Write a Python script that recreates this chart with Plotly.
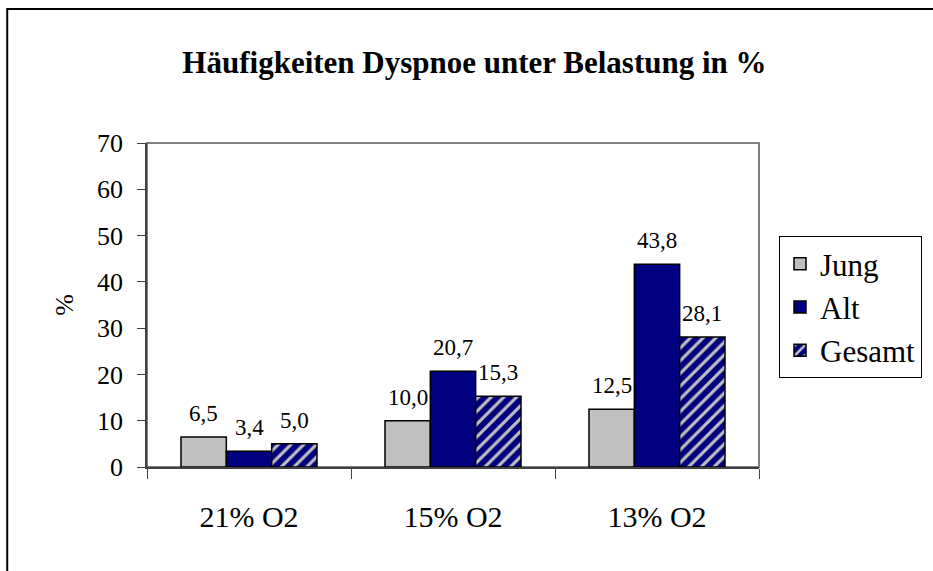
import plotly.graph_objects as go

categories = ["21% O2", "15% O2", "13% O2"]
jung = [6.5, 10.0, 12.5]
alt = [3.4, 20.7, 43.8]
gesamt = [5.0, 15.3, 28.1]
series_names = ["Jung", "Alt", "Gesamt"]

title_text = "Häufigkeiten Dyspnoe unter Belastung in %"
y_title = "%"
y_ticks = [0, 10, 20, 30, 40, 50, 60, 70]

FONT = "Liberation Serif, Times New Roman, serif"

W, H = 933, 571
L, R, T, B = 147, 760, 143, 467
pw, ph = R - L, B - T
BARGAP = 1 / 3

def px_x(x):
    return (x - L) / pw

def px_y(y):
    return (B - y) / ph

fig = go.Figure()
outline = dict(color="black", width=1.5)
fig.add_trace(go.Bar(x=categories, y=jung, name=series_names[0],
                     marker=dict(color="#C0C0C0", line=outline), legendgroup="a"))
fig.add_trace(go.Bar(x=categories, y=alt, name=series_names[1],
                     marker=dict(color="#000080", line=outline), legendgroup="b"))
fig.add_trace(go.Bar(x=categories, y=gesamt, name=series_names[2],
                     marker=dict(color="#000080", line=outline,
                                 pattern=dict(shape="/", fgcolor="#C0C0C0", bgcolor="#000080",
                                              size=9, solidity=0.35, fillmode="replace")),
                     legendgroup="c"))

# value labels above bars (German decimal comma)
bar_w = pw / len(categories) * (1 - BARGAP) / 3
annotations = []
for k, vals in enumerate([jung, alt, gesamt]):
    for cat, v in zip(categories, vals):
        annotations.append(dict(
            x=cat, y=v, xref="x", yref="y", xshift=(k - 1) * bar_w, yshift=9,
            text=f"{v:.1f}".replace(".", ","), showarrow=False,
            xanchor="center", yanchor="bottom",
            font=dict(family=FONT, size=23, color="black")))

fig.update_layout(
    width=W, height=H,
    margin=dict(l=L, r=W - R, t=T, b=H - B, pad=0),
    paper_bgcolor="white", plot_bgcolor="white",
    barmode="group", bargap=BARGAP, bargroupgap=0,
    font=dict(family=FONT, color="black"),
    title=dict(text="<b>" + title_text + "</b>", font=dict(family=FONT, size=31, color="black"),
               x=px_x(475), xref="paper", xanchor="center",
               y=1 - 62 / H, yref="container", yanchor="middle"),
    showlegend=True,
    legend=dict(x=px_x(779), xanchor="left", y=px_y(236), yanchor="top",
                bordercolor="black", borderwidth=1, bgcolor="white",
                font=dict(family=FONT, size=31, color="black"),
                tracegroupgap=0, itemwidth=30),
    annotations=annotations,
    xaxis=dict(showline=True, linecolor="#404040", linewidth=1.5,
               ticks="outside", tickson="boundaries", ticklen=10, tickcolor="#404040",
               tickfont=dict(family=FONT, size=30, color="black"),
               ticklabelstandoff=22, showgrid=False),
    yaxis=dict(range=[0, 70], tickvals=y_ticks, showline=True, linecolor="#404040", linewidth=1.5,
               ticks="outside", ticklen=8, tickcolor="#404040",
               tickfont=dict(family=FONT, size=26, color="black"),
               ticklabelstandoff=9, showgrid=False, zeroline=False,
               title=dict(text=y_title, font=dict(family=FONT, size=26, color="black"), standoff=16)),
    shapes=[
        dict(type="rect", xref="paper", yref="paper", x0=0, x1=1, y0=0, y1=1,
             line=dict(color="#808080", width=2), layer="below"),
        dict(type="rect", xref="paper", yref="paper", x0=px_x(7), x1=px_x(960),
             y0=px_y(600), y1=px_y(9), line=dict(color="black", width=2), layer="above"),
    ],
)

fig.write_html("out.html", config={"displayModeBar": False},
               post_script="document.body.style.margin='0px';")
